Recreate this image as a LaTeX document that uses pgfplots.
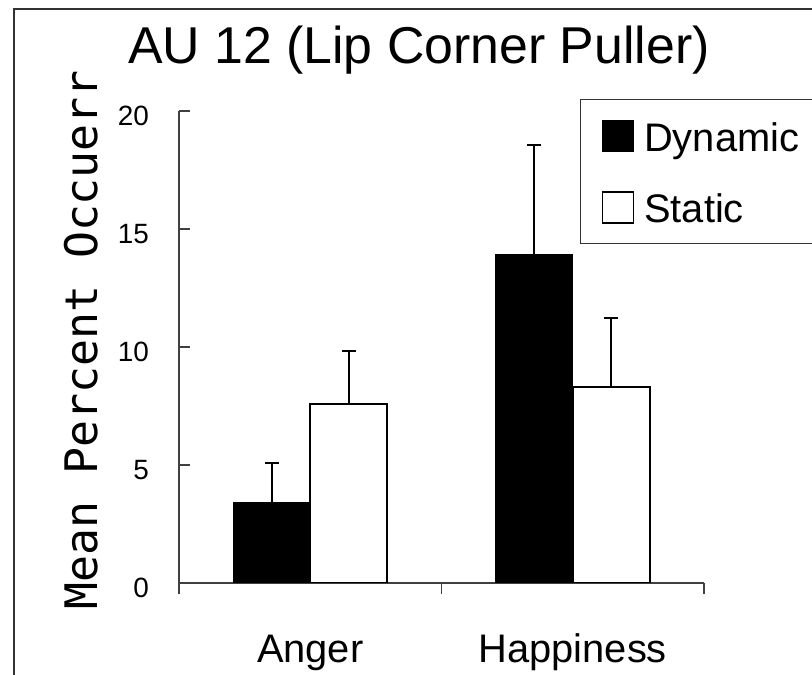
\documentclass[border=0pt]{standalone}
\usepackage{pgfplots}
\pgfplotsset{compat=1.18}
\usepackage{fontspec}
\setmainfont{Liberation Sans}
\newfontfamily\monofont{DejaVu Sans Mono}

\begin{document}
\begin{tikzpicture}[x=1bp,y=1bp]
\useasboundingbox (0,0) rectangle (812bp,675bp);
\fill[white] (0,0) rectangle (812bp,675bp);
\draw[line width=1.5bp, black!80] (14bp,-20bp) -- (14bp,666bp) -- (840bp,666bp);
\begin{axis}[
  at={(179bp,92bp)}, anchor=south west,
  scale only axis, width=525bp, height=472bp,
  xmin=0, xmax=2, ymin=0, ymax=20,
  axis x line=bottom, axis y line=left,
  axis line style={-, line width=1.2bp, black!75},
  tick style={line width=1.2bp, black!75},
  tick align=inside, major tick length=11bp,
  xtick={0,1,2}, xticklabels={,,},
  extra x ticks={0.5,1.5}, extra x tick labels={Anger,Happiness},
  extra x tick style={major tick length=0pt, xticklabel style={anchor=base, yshift=-79bp, inner sep=0pt, font=\fontsize{40}{48}\selectfont}},
  ytick={0,5,10,15,20},
  yticklabel style={anchor=east, inner sep=0pt, xshift=-30bp, yshift=-5bp, font=\fontsize{28}{34}\selectfont},
  /pgf/number format/assume math mode=true,
  title={AU 12 (Lip Corner Puller)},
  title style={at={(rel axis cs:0.457,1.087)}, anchor=base, inner sep=0pt, font=\fontsize{52}{60}\selectfont},
  ylabel={\monofont Mean Percent Occuerr},
  ylabel style={at={(rel axis cs:-0.156,0.515)}, anchor=base, inner sep=0pt, font=\fontsize{45}{54}\selectfont},
  ybar=0pt, bar width=77bp,
  legend style={at={(rel axis cs:0.764,1.025)}, anchor=north west, draw=black!80, line width=1.2bp, fill=white,
    font=\fontsize{40}{48}\selectfont, inner xsep=21bp, inner ysep=20bp, row sep=39bp,
    nodes={text depth=0pt, inner sep=0pt}, cells={anchor=west}, column sep=10bp},
]
\addplot[ybar, fill=black, draw=black, line width=1bp,
  legend image code/.code={\draw[line width=1.5bp, draw=black, fill=black] (0bp,-14.5bp) rectangle (31bp,16.5bp);},
  error bars/.cd, y dir=plus, y explicit, error mark=-,
  error bar style={line width=2bp, black},
  error mark options={rotate=90, mark size=7bp, line width=2bp, black},
  ]
  coordinates {(0.5,3.43) +- (0,1.65) (1.5,13.94) +- (0,4.62)};
\addlegendentry{Dynamic\hspace{40bp}}
\addplot[ybar, fill=white, draw=black, line width=2bp,
  legend image code/.code={\draw[line width=1.5bp, draw=black, fill=white] (0bp,-14.5bp) rectangle (31bp,16.5bp);},
  error bars/.cd, y dir=plus, y explicit, error mark=-,
  error bar style={line width=2bp, black},
  error mark options={rotate=90, mark size=7bp, line width=2bp, black},
  ]
  coordinates {(0.5,7.58) +- (0,2.25) (1.5,8.31) +- (0,2.92)};
\addlegendentry{Static}
\end{axis}
\end{tikzpicture}
\end{document}
